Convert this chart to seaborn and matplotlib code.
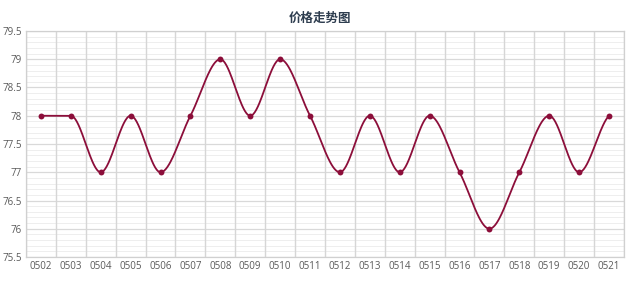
import numpy as np
import pandas as pd
import matplotlib
matplotlib.use("Agg")
import matplotlib.pyplot as plt
import seaborn as sns
from matplotlib.ticker import MultipleLocator, FuncFormatter

dates = ["0502", "0503", "0504", "0505", "0506", "0507", "0508", "0509", "0510", "0511",
         "0512", "0513", "0514", "0515", "0516", "0517", "0518", "0519", "0520", "0521"]
prices = [78, 78, 77, 78, 77, 78, 79, 78, 79, 78,
          77, 78, 77, 78, 77, 76, 77, 78, 77, 78]
title = "价格走势图"

sns.set_theme(style="white")
plt.rcParams['font.family'] = ['Open Sans', 'Noto Sans CJK SC', 'DejaVu Sans']

# Smoothed curve (cubic Hermite, flat tangents at local extrema / flat steps)
x = np.arange(len(prices), dtype=float)
y = np.array(prices, dtype=float)
n = len(x)
sec = np.diff(y)
d = np.zeros(n)
for i in range(n):
    if i == 0:
        d[i] = 0.0 if sec[0] == 0 else sec[0] * 0.5
    elif i == n - 1:
        d[i] = sec[-1] * 0.5
    else:
        if sec[i - 1] * sec[i] <= 0:
            d[i] = 0.0
        else:
            d[i] = (sec[i - 1] + sec[i]) / 2
sx, sy = [], []
t = np.linspace(0, 1, 40)
for i in range(n - 1):
    h00 = 2 * t ** 3 - 3 * t ** 2 + 1
    h10 = t ** 3 - 2 * t ** 2 + t
    h01 = -2 * t ** 3 + 3 * t ** 2
    h11 = t ** 3 - t ** 2
    by = h00 * y[i] + h10 * d[i] + h01 * y[i + 1] + h11 * d[i + 1]
    bx = x[i] + t
    sx.extend(bx if i == 0 else bx[1:])
    sy.extend(by if i == 0 else by[1:])
curve = pd.DataFrame({"x": sx, "y": sy})
pts = pd.DataFrame({"x": x, "y": y})

fig = plt.figure(figsize=(6.4, 2.81), dpi=100)
ax = fig.add_axes([0.0406, 0.0854, 0.9344, 0.8043])

line_color = "#8C0E3A"
sns.lineplot(data=curve, x="x", y="y", sort=False, estimator=None, color=line_color,
             linewidth=1.3, ax=ax, zorder=3)
sns.scatterplot(data=pts, x="x", y="y", color=line_color, s=18, edgecolor=line_color,
                linewidth=0, ax=ax, zorder=4)

ax.set_xlim(-0.5, n - 0.5)
ax.set_ylim(75.5, 79.5)
ax.set_xticks(x)
ax.set_xticklabels(dates)
ax.yaxis.set_major_locator(MultipleLocator(0.5))
ax.yaxis.set_minor_locator(MultipleLocator(0.1))
ax.yaxis.set_major_formatter(FuncFormatter(lambda v, p: f"{v:g}"))

for b in np.arange(-0.5, n, 1.0):
    ax.axvline(b, color="#D6D6D6", linewidth=1.0, zorder=1)
ax.grid(which="major", axis="y", color="#D9D9D9", linewidth=0.9, zorder=1)
ax.grid(which="minor", axis="y", color="#EBEBEB", linewidth=0.6, zorder=0)
ax.set_axisbelow(True)

for s in ax.spines.values():
    s.set_color("#D0D0D0")
    s.set_linewidth(0.9)

ax.tick_params(axis="both", which="both", length=0, labelsize=7, colors="#595959", pad=3)
ax.set_xlabel("")
ax.set_ylabel("")

fig.text(0.5, 0.935, title, ha="center", va="center", fontsize=9, fontweight="bold",
         color="#2E3D4F", family=['Noto Sans CJK SC', 'DejaVu Sans'])

fig.savefig("out.png", dpi=100, facecolor="white")
